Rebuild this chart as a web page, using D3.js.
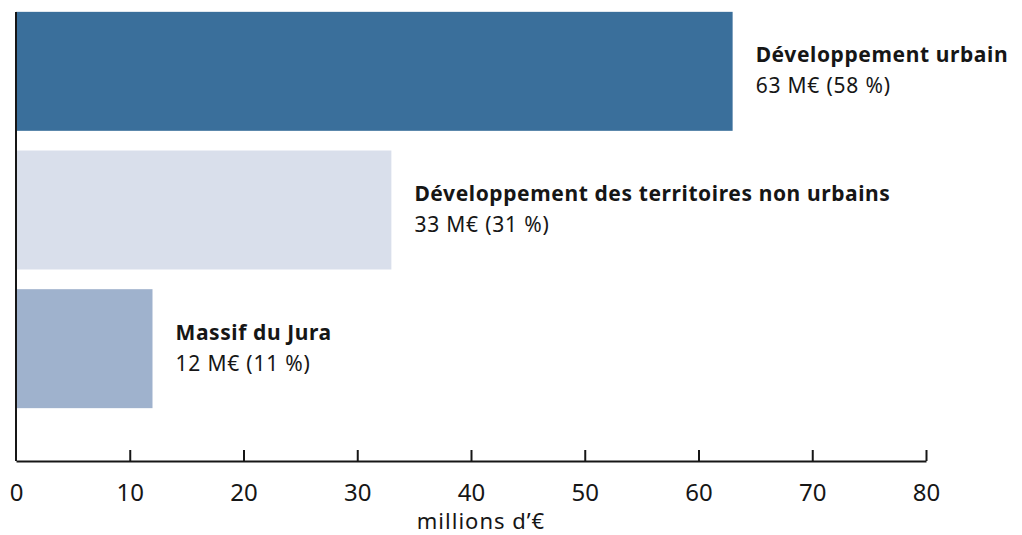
<!doctype html>
<html lang="fr">
<head>
  <meta charset="utf-8">
  <title>Répartition des crédits</title>
  <script src="https://cdnjs.cloudflare.com/ajax/libs/d3/7.8.5/d3.min.js"></script>
  <style>
    body { margin: 0; background: #fff; }
    text { font-family: "Noto Sans", "Open Sans", sans-serif; fill: #161616; }
  </style>
</head>
<body>
  <svg width="1022" height="535" id="svg"></svg>
<script>
  // données
  var categories = ["Développement urbain", "Développement des territoires non urbains", "Massif du Jura"];
  var values = [63, 33, 12];
  var shares = ["58 %", "31 %", "11 %"];
  var colors = ["#3a6f9b", "#d9dfeb", "#9fb2cd"];
  var ticks = [0, 10, 20, 30, 40, 50, 60, 70, 80];

  var svg = d3.select('#svg');

  var x = d3.scaleLinear().domain([0, 80]).range([16, 926]);
  var y = d3.scaleBand().domain(categories).range([2, 418]).paddingInner(0.142).paddingOuter(0.071);
  var axisY = 461;

  // barres
  svg.selectAll('rect.bar')
    .data(categories)
    .enter()
    .append('rect')
    .attr('class', 'bar')
    .attr('x', x(0))
    .attr('y', function(d) { return y(d); })
    .attr('width', function(d, i) { return x(values[i]) - x(0); })
    .attr('height', y.bandwidth())
    .attr('fill', function(d, i) { return colors[i]; });

  // libellés
  var lab = svg.selectAll('g.lab')
    .data(categories)
    .enter()
    .append('g')
    .attr('class', 'lab')
    .attr('transform', function(d, i) {
      return 'translate(' + (x(values[i]) + 23) + ',' + (y(d) + y.bandwidth() / 2) + ')';
    });
  lab.append('text')
    .attr('y', -9)
    .style('font-size', '21px')
    .style('font-weight', 'bold')
    .style('letter-spacing', '0.6px')
    .text(function(d) { return d; });
  lab.append('text')
    .attr('y', 22)
    .style('font-size', '21px')
    .style('letter-spacing', '0.8px')
    .text(function(d, i) { return values[i] + ' M€ (' + shares[i] + ')'; });

  // axe vertical
  svg.append('line')
    .attr('x1', x(0)).attr('x2', x(0))
    .attr('y1', 12).attr('y2', axisY)
    .attr('stroke', '#161616').attr('stroke-width', 2);

  // axe horizontal
  var xAxis = d3.axisBottom(x).tickValues(ticks).tickSizeInner(-11).tickSizeOuter(0).tickPadding(23);
  var gx = svg.append('g').attr('transform', 'translate(0,' + axisY + ')').call(xAxis);
  gx.select('.domain').attr('stroke', '#161616').attr('stroke-width', 2);
  gx.selectAll('.tick line').attr('stroke', '#161616').attr('stroke-width', 2);
  gx.selectAll('.tick text')
    .attr('fill', '#161616')
    .style('font-size', '24px')
    .style('font-family', '"Noto Sans", sans-serif');
  gx.selectAll('.tick').filter(function(d) { return d === 0; }).select('line').remove();

  svg.append('text')
    .attr('x', (x(0) + x(80)) / 2 + 10)
    .attr('y', 529)
    .attr('text-anchor', 'middle')
    .style('font-size', '22px')
    .style('letter-spacing', '1px')
    .text('millions d’€');
</script>
</body>
</html>
